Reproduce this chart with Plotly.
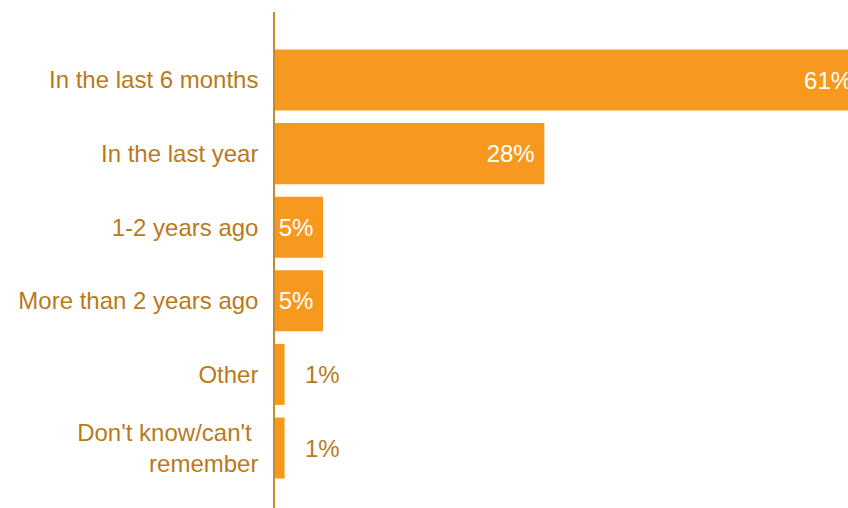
import plotly.graph_objects as go

# Survey answers, top to bottom, with the share of respondents (%)
categories = [
    "In the last 6 months",
    "In the last year",
    "1-2 years ago",
    "More than 2 years ago",
    "Other",
    "Don't know/can't <br>remember",
]
values = [61, 28, 5, 5, 1, 1]
value_labels = ["61%", "28%", "5%", "5%", "1%", "1%"]
label_inside = [True, True, True, True, False, False]

BAR = "#F7991F"
TEXT = "#B97A1C"
AXIS = "#C98A2E"
FONT = "Liberation Sans, Arial, sans-serif"
SIZE = 24

fig = go.Figure()

fig.add_trace(go.Bar(
    x=values,
    y=list(range(len(categories))),
    orientation="h",
    width=0.83,
    marker=dict(color=BAR, line=dict(width=0)),
    text=[t + " " if inside else "" for t, inside in zip(value_labels, label_inside)],
    textposition="inside",
    insidetextanchor="end",
    textangle=0,
    constraintext="none",
    textfont=dict(color="white", size=SIZE, family=FONT),
    hoverinfo="skip",
))

# Small bars carry their value just past the bar end
for i, (v, t, inside) in enumerate(zip(values, value_labels, label_inside)):
    if not inside:
        fig.add_annotation(
            x=v, y=i, text=t, showarrow=False,
            xanchor="left", xshift=18,
            font=dict(color=TEXT, size=SIZE, family=FONT),
        )

fig.update_layout(
    width=848, height=508,
    margin=dict(l=275, r=0, t=12, b=0),
    paper_bgcolor="white",
    plot_bgcolor="white",
    showlegend=False,
    font=dict(family=FONT, color=TEXT, size=SIZE),
    xaxis=dict(
        range=[0, 573 / 9.62],
        showgrid=False, zeroline=False, showline=False,
        showticklabels=False, ticks="",
    ),
    yaxis=dict(
        tickmode="array",
        tickvals=list(range(len(categories))),
        ticktext=categories,
        range=[5.815, -0.924],
        showgrid=False, zeroline=False,
        showline=True, linecolor=AXIS, linewidth=1.5,
        ticks="", ticklabelstandoff=10,
        tickfont=dict(color=TEXT, size=SIZE, family=FONT),
    ),
)

fig.write_html("out.html")
